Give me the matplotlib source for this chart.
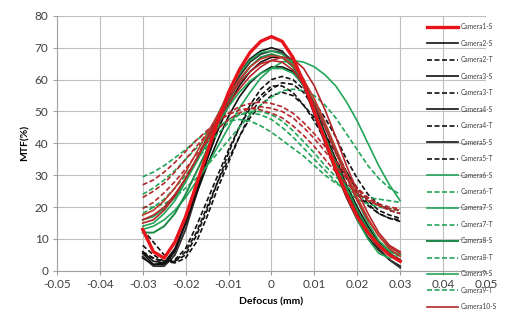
import matplotlib
matplotlib.use("Agg")
import matplotlib.pyplot as plt

plt.rcParams['font.family'] = ['Lato', 'DejaVu Sans']

# defocus positions (mm)
defocus = [-0.03, -0.0275, -0.025, -0.0225, -0.02, -0.0175, -0.015, -0.0125, -0.01,
           -0.0075, -0.005, -0.0025, 0.0, 0.0025, 0.005, 0.0075, 0.01, 0.0125,
           0.015, 0.0175, 0.02, 0.0225, 0.025, 0.0275, 0.03]

# MTF (%)
cam1_s = [13, 6, 4, 9, 17, 27, 37, 47, 56, 63, 68.5, 72, 73.5, 72, 67, 59, 50, 41, 32, 24, 17, 12, 8, 5, 3]
cam2_s = [5.5, 2, 2, 6, 15, 26, 37, 47, 55.5, 62, 66.5, 69, 70, 69, 65, 58, 49, 40, 31, 23, 16, 10.5, 6.5, 3.5, 1.5]
cam2_t = [13, 9, 5, 3, 5, 11, 19, 28, 37, 45, 52, 57, 60, 61, 60, 57, 53, 48, 42, 35, 29, 24, 21, 19, 18]
cam3_s = [4.5, 1.5, 1.5, 5, 13, 24, 35, 45, 54, 61, 65.5, 68, 69, 68.5, 66, 60, 52, 43, 34, 25, 18, 12, 7, 3.5, 1]
cam3_t = [5.5, 4, 3, 2.5, 4, 9, 17, 26, 34, 42, 49, 54, 57, 59, 58.5, 56, 51, 45, 38, 31, 25, 21, 18, 16.5, 15.5]
cam4_s = [6, 3, 2.5, 6.5, 15, 25, 35, 44, 52, 58, 62.5, 65.5, 67, 67, 64.5, 59, 51, 42, 33, 25, 18, 12.5, 8, 5, 3]
cam4_t = [8, 5, 3, 3.5, 7, 14, 22, 30, 38, 45, 51, 55, 58, 58, 56, 52, 47, 41, 35, 29, 24, 20.5, 18, 16.5, 16]
cam5_s = [4, 2, 2.5, 7, 15, 24, 33, 41, 48.5, 54.5, 59, 62, 64, 64, 62.5, 58, 51, 43, 35, 27, 20, 14, 9, 5.5, 3.5]
cam5_t = [6, 4, 2.5, 3, 6, 12, 20, 28, 35, 42, 48, 52, 55, 56, 55, 52, 48, 43, 37, 31, 26, 22, 19, 17.5, 16.5]
cam6_s = [14, 15, 18, 22, 28, 35, 42, 49, 56, 62, 66, 68.5, 69, 68, 65, 59, 51, 42, 33, 24, 16, 10, 5.5, 4, 5]
cam6_t = [29.5, 31, 33, 35.5, 38, 41, 43.5, 45.5, 47, 47.5, 47, 45.5, 43.5, 41, 38.5, 36, 33, 30, 27.5, 25.5, 24, 23, 22.5, 22, 21.5]
cam7_s = [13, 14, 16, 19, 23, 28, 33, 39, 45, 51, 56, 60.5, 63.5, 65.5, 66, 65.5, 64, 61.5, 58, 53, 47, 40, 33, 27, 22]
cam7_t = [20, 20, 21, 23, 26, 29, 33, 37, 41, 45, 49, 52, 54.5, 56.5, 57, 56.5, 55, 52, 48, 43, 38, 33, 29, 26, 24]
cam8_s = [12, 12, 14, 18, 24, 31, 38, 46, 53, 59.5, 64, 67, 68, 67, 64, 58, 50.5, 42, 34, 26, 19, 13, 8.5, 6, 5]
cam8_t = [24, 26, 28.5, 31.5, 35, 38.5, 42, 45, 47.5, 49, 49.5, 49, 47.5, 45, 42, 38.5, 35, 31.5, 28, 25, 22.5, 21, 20, 19.5, 19]
cam9_s = [16, 17, 19.5, 23, 28, 34, 40, 46, 51.5, 56, 59.5, 62, 63.5, 63.5, 62, 58.5, 53, 46, 38, 30, 22, 15, 9.5, 6.5, 5]
cam9_t = [18, 20, 22.5, 26, 30, 34.5, 39, 43, 46.5, 49, 50, 50, 49, 47, 44, 40.5, 37, 33, 29.5, 26.5, 24, 22, 20.5, 19.5, 19]
cam10_s = [16, 17.5, 20, 24, 29, 35, 41, 47, 52.5, 57, 61, 64, 66, 67, 66.5, 63.5, 58, 50.5, 42, 33, 25, 18, 12, 8, 6]
cam10_t = [23, 25, 27.5, 31, 35, 39, 43, 46.5, 49.5, 51.5, 52.5, 53, 52.5, 51.5, 49.5, 46.5, 43, 39, 34.5, 30, 26, 23, 21, 20, 19.5]
cam11_s = [15, 16, 19, 23.5, 29, 35, 41.5, 48, 54, 59, 62.5, 65, 66, 65.5, 63, 58.5, 52.5, 45, 37, 29.5, 22, 16, 11, 7.5, 5.5]
cam11_t = [19.5, 21.5, 24.5, 28, 32, 36.5, 40.5, 44.5, 47.5, 49.5, 51, 51.5, 51, 50, 48, 45, 41.5, 37.5, 33, 29, 25.5, 22.5, 20.5, 19, 18]
cam12_s = [17.5, 19, 22, 26, 31, 37, 43, 49, 55, 60, 64, 66.5, 67.5, 67, 64.5, 60, 54, 46.5, 38.5, 30.5, 23, 16.5, 11, 7, 4.5]
cam12_t = [27, 28.5, 31, 34, 37.5, 41, 44, 47, 49, 50.5, 51, 50.5, 49.5, 48, 45.5, 42.5, 39, 35, 31, 27.5, 24.5, 22, 20.5, 19.5, 19]

red = '#e8141b'
dred = '#b5262a'
blk = '#111111'
grn = '#22a557'
dgrn = '#1b8a47'

# (label, values, colour, linestyle, linewidth)
series = [
    ('Camera2-S', cam2_s, blk, '-', 1.2),
    ('Camera2-T', cam2_t, blk, '--', 1.2),
    ('Camera3-S', cam3_s, '#333333', '-', 1.4),
    ('Camera3-T', cam3_t, blk, '--', 1.2),
    ('Camera4-S', cam4_s, blk, '-', 1.2),
    ('Camera4-T', cam4_t, blk, '--', 1.2),
    ('Camera5-S', cam5_s, blk, '-', 1.2),
    ('Camera5-T', cam5_t, blk, '--', 1.2),
    ('Camera6-S', cam6_s, grn, '-', 1.2),
    ('Camera6-T', cam6_t, grn, '--', 1.2),
    ('Camera7-S', cam7_s, grn, '-', 1.2),
    ('Camera7-T', cam7_t, grn, '--', 1.2),
    ('Camera8-S', cam8_s, dgrn, '-', 1.4),
    ('Camera8-T', cam8_t, grn, '--', 1.2),
    ('Camera9-S', cam9_s, grn, '-', 1.2),
    ('Camera9-T', cam9_t, grn, '--', 1.2),
    ('Camera10-S', cam10_s, dred, '-', 1.2),
    ('Camera10-T', cam10_t, dred, '--', 1.2),
    ('Camera11-S', cam11_s, dred, '-', 1.2),
    ('Camera11-T', cam11_t, dred, '--', 1.2),
    ('Camera12-S', cam12_s, '#c0392b', '-', 1.2),
    ('Camera12-T', cam12_t, dred, '--', 1.2),
]

fig = plt.figure(figsize=(5.17, 3.24), dpi=100)
ax = fig.add_axes([0.110, 0.164, 0.830, 0.787])

handles = {}
for label, vals, col, ls, lw in series:
    line, = ax.plot(defocus, vals, color=col, linestyle=ls, linewidth=lw,
                    dashes=(3, 1.5) if ls == '--' else (None, None), label=label)
    handles[label] = line
line1, = ax.plot(defocus, cam1_s, color=red, linewidth=2.4, label='Camera1-S', zorder=5)
handles['Camera1-S'] = line1

ax.set_xlim(-0.05, 0.05)
ax.set_ylim(0, 80)
ax.set_xticks([-0.05, -0.04, -0.03, -0.02, -0.01, 0, 0.01, 0.02, 0.03, 0.04, 0.05])
ax.set_xticklabels(['-0.05', '-0.04', '-0.03', '-0.02', '-0.01', '0', '0.01', '0.02', '0.03', '0.04', '0.05'])
ax.set_yticks(range(0, 81, 10))
ax.grid(True, color='#bfbfbf', linewidth=0.8)
ax.set_axisbelow(True)
for s in ['top', 'right']:
    ax.spines[s].set_visible(False)
for s in ['left', 'bottom']:
    ax.spines[s].set_color('#a0a0a0')
ax.tick_params(colors='#a0a0a0', labelcolor='#404040', labelsize=8.5, length=3, pad=3)

ax.set_xlabel('Defocus (mm)', fontsize=7.5, fontweight='bold', labelpad=5)
ax.set_ylabel('MTF(%)', fontsize=7.5, fontweight='bold', labelpad=4)

order = ['Camera1-S', 'Camera2-S', 'Camera2-T', 'Camera3-S', 'Camera3-T', 'Camera4-S',
         'Camera4-T', 'Camera5-S', 'Camera5-T', 'Camera6-S', 'Camera6-T', 'Camera7-S',
         'Camera7-T', 'Camera8-S', 'Camera8-T', 'Camera9-S', 'Camera9-T', 'Camera10-S']
leg = fig.legend([handles[k] for k in order], order, loc='upper left',
                 bbox_to_anchor=(0.826, 0.928), frameon=False, fontsize=4.8,
                 handlelength=4.6, handletextpad=0.4, labelspacing=1.42,
                 borderpad=0, borderaxespad=0)
for t in leg.get_texts():
    t.set_color('#404040')

fig.savefig('out.png', dpi=100)
